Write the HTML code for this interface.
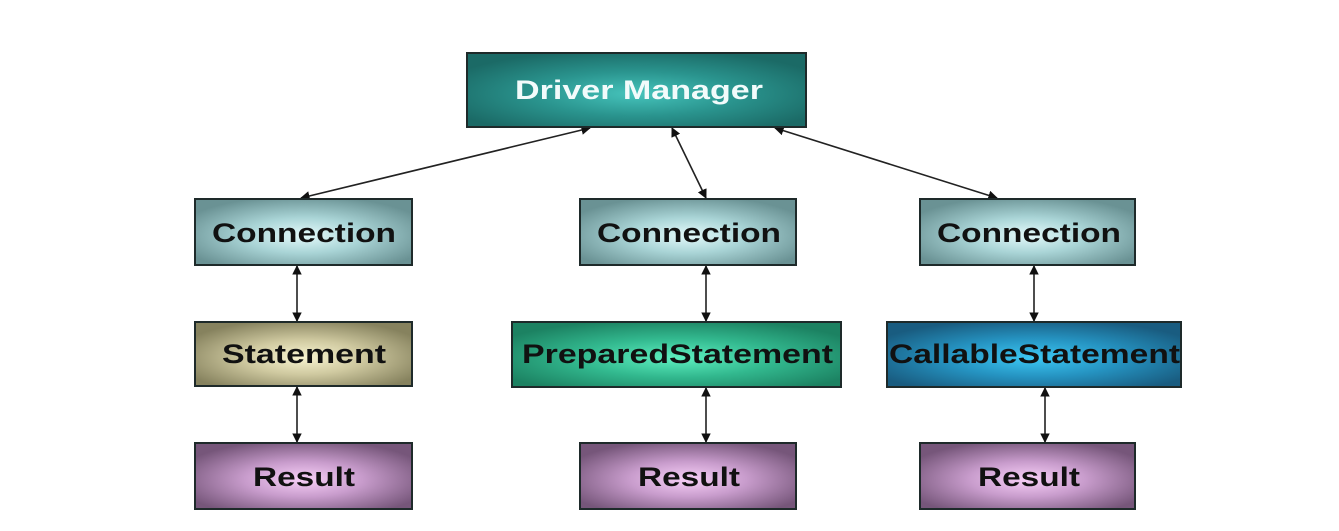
<!DOCTYPE html>
<html><head><meta charset="utf-8"><style>html,body{margin:0;padding:0;background:#fff}svg{display:block}</style></head>
<body>
<svg width="1339" height="531" viewBox="0 0 1339 531" xmlns="http://www.w3.org/2000/svg" font-family="Liberation Sans, Arial, sans-serif" font-weight="bold">
<defs>
<radialGradient id="dm" cx="50%" cy="55%" r="60%"><stop offset="0" stop-color="#46c4bc"/><stop offset="0.5" stop-color="#2a948e"/><stop offset="1" stop-color="#1b6a66"/></radialGradient>
<radialGradient id="cn" cx="50%" cy="55%" r="60%"><stop offset="0" stop-color="#e4fafb"/><stop offset="0.45" stop-color="#a9d4d6"/><stop offset="1" stop-color="#6a9294"/></radialGradient>
<radialGradient id="st" cx="50%" cy="55%" r="60%"><stop offset="0" stop-color="#f8f4d0"/><stop offset="0.45" stop-color="#cfc9a0"/><stop offset="1" stop-color="#86825e"/></radialGradient>
<radialGradient id="ps" cx="50%" cy="55%" r="60%"><stop offset="0" stop-color="#5ef0c0"/><stop offset="0.5" stop-color="#32b88e"/><stop offset="1" stop-color="#1c8262"/></radialGradient>
<radialGradient id="cs" cx="50%" cy="55%" r="60%"><stop offset="0" stop-color="#3cc8f4"/><stop offset="0.5" stop-color="#2592c0"/><stop offset="1" stop-color="#195c80"/></radialGradient>
<radialGradient id="rs" cx="50%" cy="55%" r="60%"><stop offset="0" stop-color="#f8d0f8"/><stop offset="0.45" stop-color="#c89ccc"/><stop offset="1" stop-color="#76567a"/></radialGradient>
<marker id="a" viewBox="0 0 10 10" refX="9" refY="5" markerWidth="6" markerHeight="6" orient="auto-start-reverse"><path d="M0,0L10,5L0,10z" fill="#111"/></marker>
</defs>
<g stroke="#222" stroke-width="1.6" fill="none" marker-start="url(#a)" marker-end="url(#a)">
<line x1="590" y1="128" x2="301" y2="198"/>
<line x1="672" y1="128" x2="706" y2="198"/>
<line x1="775" y1="128" x2="997" y2="198"/>
<line x1="297" y1="266" x2="297" y2="321"/>
<line x1="297" y1="387" x2="297" y2="442"/>
<line x1="706" y1="266" x2="706" y2="321"/>
<line x1="706" y1="388" x2="706" y2="442"/>
<line x1="1034" y1="266" x2="1034" y2="321"/>
<line x1="1045" y1="388" x2="1045" y2="442"/>
</g>
<g stroke="#1e2a2a" stroke-width="2">
<rect x="467" y="53" width="339" height="74" fill="url(#dm)"/>
<rect x="195" y="199" width="217" height="66" fill="url(#cn)"/>
<rect x="580" y="199" width="216" height="66" fill="url(#cn)"/>
<rect x="920" y="199" width="215" height="66" fill="url(#cn)"/>
<rect x="195" y="322" width="217" height="64" fill="url(#st)"/>
<rect x="512" y="322" width="329" height="65" fill="url(#ps)"/>
<rect x="887" y="322" width="294" height="65" fill="url(#cs)"/>
<rect x="195" y="443" width="217" height="66" fill="url(#rs)"/>
<rect x="580" y="443" width="216" height="66" fill="url(#rs)"/>
<rect x="920" y="443" width="215" height="66" fill="url(#rs)"/>
</g>
<g font-size="27" fill="#111" lengthAdjust="spacingAndGlyphs">
<text x="515" y="99" textLength="248" lengthAdjust="spacingAndGlyphs" fill="#f2fbfb">Driver Manager</text>
<text x="212" y="242" textLength="184" lengthAdjust="spacingAndGlyphs">Connection</text>
<text x="597" y="242" textLength="184" lengthAdjust="spacingAndGlyphs">Connection</text>
<text x="937" y="242" textLength="184" lengthAdjust="spacingAndGlyphs">Connection</text>
<text x="222" y="363" textLength="164" lengthAdjust="spacingAndGlyphs">Statement</text>
<text x="522" y="363" textLength="311" lengthAdjust="spacingAndGlyphs">PreparedStatement</text>
<text x="889" y="363" textLength="291" lengthAdjust="spacingAndGlyphs">CallableStatement</text>
<text x="253" y="486" textLength="102" lengthAdjust="spacingAndGlyphs">Result</text>
<text x="638" y="486" textLength="102" lengthAdjust="spacingAndGlyphs">Result</text>
<text x="978" y="486" textLength="102" lengthAdjust="spacingAndGlyphs">Result</text>
</g>
</svg>
</body></html>
